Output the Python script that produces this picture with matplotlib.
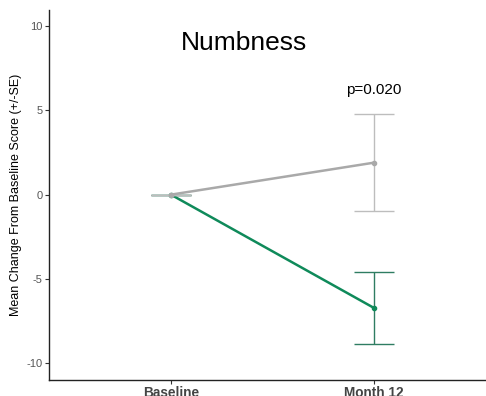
"""Mean change from baseline in numbness score, by treatment group."""

from matplotlib import pyplot
import numpy

visits = ['Baseline', 'Month 12']
control_mean = [0.0, 1.9]
control_se = [0.0, 2.87]
treated_mean = [0.0, -6.73]
treated_se = [0.0, 2.15]
p_label = 'p=0.020'

pyplot.rc('font', family='Liberation Sans')
fig = pyplot.figure(figsize=(4.86, 3.96), dpi=100)
ax = fig.add_axes([0.1008, 0.0404, 0.92, 0.934])

x = numpy.arange(1, len(visits) + 1)

# Treated arm in green.
ax.errorbar(x, treated_mean, yerr=treated_se, color='#2f7d62',
            elinewidth=1.0, capsize=14.5, capthick=1.0, fmt='none', zorder=2)
ax.plot(x, treated_mean, color='#0f8a5a', linewidth=1.8,
        marker='o', markersize=3, zorder=3)

# Control arm in grey, drawn on top.
ax.errorbar(x, control_mean, yerr=control_se, color='#bdbdbd',
            elinewidth=1.0, capsize=14.5, capthick=1.0, fmt='none', zorder=4)
ax.plot(x, control_mean, color='#a9a9a9', linewidth=1.8,
        marker='o', markersize=3, zorder=5)

ax.text(1.36, 9.0, 'Numbness', ha='center', va='center', fontsize=19)
ax.text(x[1], 6.2, p_label, ha='center', va='center', fontsize=11)

ax.set_xlim(0.4, 2.6)
ax.set_ylim(-11.0, 10.95)
ax.set_xticks(x)
ax.set_xticklabels(visits, fontsize=9.8, fontweight='bold', color='#444444')
ax.set_yticks([-10, -5, 0, 5, 10])
ax.set_yticklabels(['-10', '-5', '0', '5', '10'], fontsize=8, color='#555555')
ax.tick_params(axis='both', direction='out', length=3, width=0.8,
               color='#333333', pad=1.5)
ax.set_ylabel('Mean Change From Baseline Score (+/-SE)', fontsize=9,
              labelpad=3)

ax.spines['top'].set_visible(False)
ax.spines['right'].set_visible(False)
for side in ('left', 'bottom'):
    ax.spines[side].set_linewidth(1.0)
    ax.spines[side].set_color('#222222')

fig.savefig('out.png', dpi=100)
